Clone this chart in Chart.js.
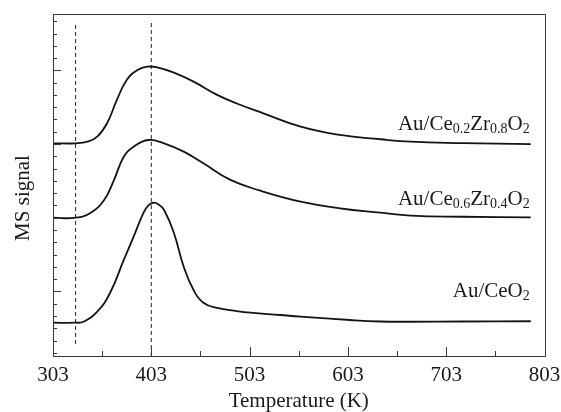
<!DOCTYPE html>
<html>
<head>
<meta charset="utf-8">
<script src="https://cdn.jsdelivr.net/npm/chart.js@4.4.1/dist/chart.umd.min.js"></script>
<style>
  html, body { margin: 0; padding: 0; background: #fff; }
  canvas { display: block; }
</style>
</head>
<body>
<canvas id="tpd-chart" width="561" height="412"></canvas>
<script>
const tempCeO2 = [303, 326, 334, 348, 361, 375, 385, 395, 400, 405, 410, 416, 426, 436, 446, 456, 470, 490, 504, 534, 555, 605, 636, 666, 720, 789];
const signalCeO2 = [3.45, 3.45, 3.53, 4.35, 5.87, 8.56, 10.46, 12.39, 13.0, 13.22, 13.1, 12.63, 10.76, 8.01, 6.11, 5.08, 4.65, 4.40, 4.27, 4.08, 3.94, 3.67, 3.55, 3.53, 3.55, 3.57];

const tempCe06 = [303, 326, 341, 355, 365, 375, 385, 400, 416, 436, 456, 483, 514, 555, 595, 636, 667, 720, 789];
const signalCe06 = [12.00, 12.00, 12.39, 13.44, 15.07, 16.97, 17.78, 18.33, 18.06, 17.38, 16.43, 15.1, 14.2, 13.31, 12.77, 12.41, 12.17, 12.08, 12.03];

const tempCe02 = [303, 326, 338, 348, 358, 368, 378, 389, 399, 409, 426, 446, 470, 490, 517, 555, 595, 636, 667, 720, 789];
const signalCe02 = [18.06, 18.06, 18.19, 18.60, 19.69, 21.59, 23.22, 24.03, 24.30, 24.25, 23.81, 23.08, 22.0, 21.3, 20.5, 19.42, 18.74, 18.39, 18.19, 18.08, 18.00];

// series names (_x = subscript) and where they sit (right end, baseline)
const seriesNames = ['Au/CeO_{2}', 'Au/Ce_{0.6}Zr_{0.4}O_{2}', 'Au/Ce_{0.2}Zr_{0.8}O_{2}'];
const nameTemp = 788;
const nameSignal = [5.57, 13.04, 19.14];

// dashed reference lines
const refTemps = [326, 403];
const refBottom = [1.72, 0.74];
const refTop = 27.86;

// axes
const xMajorTicks = [303, 403, 503, 603, 703, 803];
const xMinorTicks = [353, 453, 553, 653, 753];
const yMajorTicks = [6, 12, 18, 24];
const yMinorTicks = [1, 2, 3, 4, 5, 7, 8, 9, 10, 11, 13, 14, 15, 16, 17, 19, 20, 21, 22, 23, 25, 26, 27, 28];
const yMin = 0.74, yMax = 28.59;

const FONT = '"Liberation Serif", "Times New Roman", serif';

function toPoints(xs, ys) {
    return xs.map((t, i) => ({ x: t, y: ys[i] }));
}

function traceSet(xs, ys) {
    return {
        data: toPoints(xs, ys),
        borderColor: '#141414',
        borderWidth: 1.8,
        pointRadius: 0,
        tension: 0.45,
        fill: false
    };
}

const datasets = [
    traceSet(tempCeO2, signalCeO2),
    traceSet(tempCe06, signalCe06),
    traceSet(tempCe02, signalCe02)
];
refTemps.forEach((t, i) => {
    datasets.push({
        data: [{ x: t, y: refBottom[i] }, { x: t, y: refTop }],
        borderColor: '#222',
        borderWidth: 1,
        borderDash: [4, 3],
        pointRadius: 0,
        tension: 0
    });
});

// split 'Au/Ce_{0.2}Zr' into [text, isSub] pieces
function splitName(name) {
    const parts = [];
    const re = /_\{([^}]*)\}/g;
    let last = 0, m;
    while ((m = re.exec(name)) !== null) {
        if (m.index > last) parts.push([name.slice(last, m.index), false]);
        parts.push([m[1], true]);
        last = re.lastIndex;
    }
    if (last < name.length) parts.push([name.slice(last), false]);
    return parts;
}

const overlay = {
    id: 'overlay',
    afterDatasetsDraw(chart) {
        const { ctx, chartArea: a, scales: { x, y } } = chart;
        ctx.save();
        ctx.strokeStyle = '#3a3a3a';
        ctx.lineWidth = 1;

        // frame
        ctx.strokeRect(Math.round(a.left) + 0.5, Math.round(a.top) + 0.5,
            Math.round(a.right - a.left), Math.round(a.bottom - a.top));

        // inward ticks
        ctx.beginPath();
        xMajorTicks.concat(xMinorTicks).forEach(t => {
            const px = Math.round(x.getPixelForValue(t)) + 0.5;
            const len = xMajorTicks.includes(t) ? 9 : 5;
            ctx.moveTo(px, a.bottom);
            ctx.lineTo(px, a.bottom - len);
        });
        yMajorTicks.concat(yMinorTicks).forEach(v => {
            const py = Math.round(y.getPixelForValue(v)) + 0.5;
            const len = yMajorTicks.includes(v) ? 8 : 4;
            ctx.moveTo(a.left, py);
            ctx.lineTo(a.left + len, py);
        });
        ctx.stroke();

        // series names with subscripts
        ctx.fillStyle = '#1a1a1a';
        ctx.textBaseline = 'alphabetic';
        ctx.textAlign = 'left';
        seriesNames.forEach((name, i) => {
            const parts = splitName(name);
            let width = 0;
            parts.forEach(([txt, sub]) => {
                ctx.font = (sub ? '14px ' : '21px ') + FONT;
                width += ctx.measureText(txt).width;
            });
            let cx = x.getPixelForValue(nameTemp) - width;
            const base = y.getPixelForValue(nameSignal[i]);
            parts.forEach(([txt, sub]) => {
                ctx.font = (sub ? '14px ' : '21px ') + FONT;
                ctx.fillText(txt, cx, base + (sub ? 3 : 0));
                cx += ctx.measureText(txt).width;
            });
        });

        // y axis title
        ctx.font = '21px ' + FONT;
        ctx.textAlign = 'center';
        ctx.translate(28.5, 198);
        ctx.rotate(-Math.PI / 2);
        ctx.fillText('MS signal', 0, 0);
        ctx.restore();
    }
};

new Chart(document.getElementById('tpd-chart'), {
    type: 'line',
    data: { datasets: datasets },
    options: {
        responsive: false,
        animation: false,
        devicePixelRatio: 1,
        layout: { padding: { left: 0, right: 16.5, top: 14, bottom: 0 } },
        plugins: { legend: { display: false }, tooltip: { enabled: false } },
        scales: {
            x: {
                type: 'linear',
                min: 303,
                max: 803,
                afterFit: (scale) => {
                    scale.height = 56;
                    scale.paddingLeft = 0;
                    scale.paddingRight = 0;
                },
                afterBuildTicks: (scale) => {
                    scale.ticks = xMajorTicks.map(v => ({ value: v }));
                },
                grid: { display: false, drawTicks: false },
                border: { display: false },
                ticks: {
                    padding: 7,
                    color: '#1a1a1a',
                    font: { family: FONT, size: 21 },
                    maxRotation: 0,
                    autoSkip: false
                },
                title: {
                    display: true,
                    text: 'Temperature (K)',
                    color: '#1a1a1a',
                    font: { family: FONT, size: 21, lineHeight: 1 },
                    padding: { top: 0, bottom: 0 }
                }
            },
            y: {
                type: 'linear',
                min: yMin,
                max: yMax,
                afterFit: (scale) => { scale.width = 53; },
                grid: { display: false, drawTicks: false },
                border: { display: false },
                ticks: { display: false }
            }
        }
    },
    plugins: [overlay]
});
</script>
</body>
</html>
